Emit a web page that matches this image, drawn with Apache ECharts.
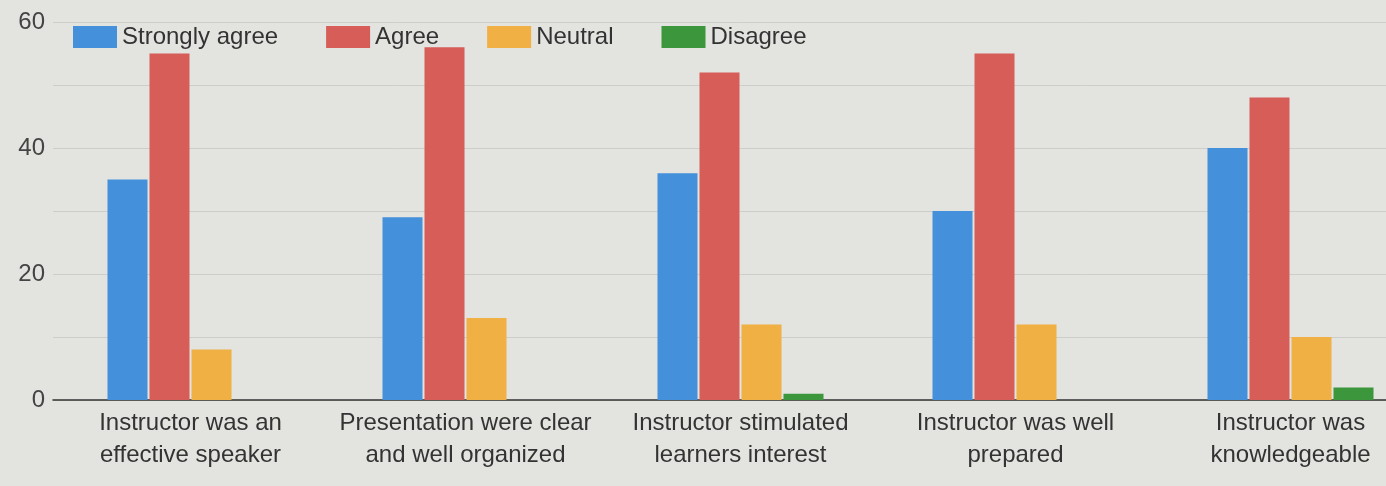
<!DOCTYPE html>
<html>
<head>
<meta charset="utf-8">
<script src="https://cdn.jsdelivr.net/npm/echarts@6/dist/echarts.min.js"></script>
<style>
  html, body { margin: 0; padding: 0; background: #e3e3e0; overflow: hidden; }
  #chart { width: 1428px; height: 486px; }
</style>
</head>
<body>
<div id="chart"></div>
<script>
const categories = [
  "Instructor was an\neffective speaker",
  "Presentation were clear\nand well organized",
  "Instructor stimulated\nlearners interest",
  "Instructor was well\nprepared",
  "Instructor was\nknowledgeable"
];
const seriesNames = ["Strongly agree", "Agree", "Neutral", "Disagree"];
const stronglyAgree = [35, 29, 36, 30, 40];
const agree = [55, 56, 52, 55, 48];
const neutral = [8, 13, 12, 12, 10];
const disagree = [0, 0, 1, 0, 2];
const yTicks = [0, 20, 40, 60];

const colors = ["#4590da", "#d65d58", "#f0b044", "#3b963c"];
const values = [stronglyAgree, agree, neutral, disagree];

const chart = echarts.init(document.getElementById("chart"));
chart.setOption({
  backgroundColor: "#e3e3e0",
  animation: false,
  color: colors,
  textStyle: { fontFamily: "Liberation Sans, Arial, sans-serif" },
  legend: {
    left: 68,
    top: 20,
    itemWidth: 44,
    itemHeight: 22,
    itemGap: 48,
    icon: "rect",
    textStyle: { fontSize: 24, color: "#333" },
    data: seriesNames
  },
  grid: { left: 53, right: 0, top: 22, bottom: 86, containLabel: false },
  xAxis: {
    type: "category",
    data: categories,
    axisTick: { show: false },
    axisLine: { lineStyle: { color: "#333", width: 1.5 } },
    axisLabel: { fontSize: 24, color: "#333", lineHeight: 32, margin: 7, interval: 0 }
  },
  yAxis: {
    type: "value",
    min: yTicks[0],
    max: yTicks[yTicks.length - 1],
    interval: 20,
    axisLine: { show: false },
    axisTick: { show: false },
    axisLabel: { fontSize: 24, color: "#444", margin: 8 },
    splitLine: { lineStyle: { color: "#cdcdca", width: 1 } },
    minorTick: { show: false, splitNumber: 2 },
    minorSplitLine: { show: true, lineStyle: { color: "#cdcdca", width: 1 } }
  },
  series: seriesNames.map((name, i) => ({
    name: name,
    type: "bar",
    data: values[i],
    barWidth: 40,
    barGap: "5%",
    itemStyle: { color: colors[i] }
  }))
});
</script>
</body>
</html>
